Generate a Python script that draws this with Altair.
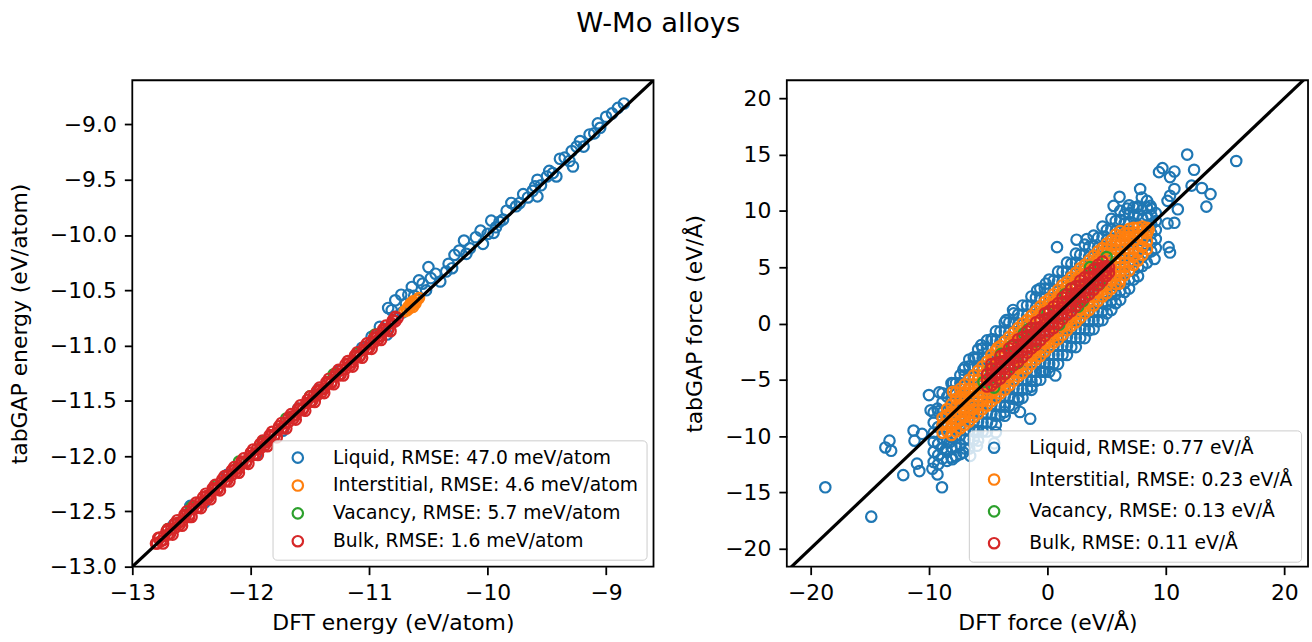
import altair as alt
import pandas as pd

FONT = "DejaVu Sans"
COLORS = ["#1f77b4", "#ff7f0e", "#2ca02c", "#d62728"]

ENERGY_LABELS = [
    "Liquid, RMSE: 47.0 meV/atom",
    "Interstitial, RMSE: 4.6 meV/atom",
    "Vacancy, RMSE: 5.7 meV/atom",
    "Bulk, RMSE: 1.6 meV/atom",
]
FORCE_LABELS = [
    "Liquid, RMSE: 0.77 eV/Å",
    "Interstitial, RMSE: 0.23 eV/Å",
    "Vacancy, RMSE: 0.13 eV/Å",
    "Bulk, RMSE: 0.11 eV/Å",
]

# ---------------- energy panel (DFT, tabGAP) in eV/atom ----------------
liquid_e = [
    (-8.85, -8.81), (-8.90, -8.85), (-8.95, -8.90), (-9.00, -8.93), (-9.05, -9.03),
    (-9.07, -8.99), (-9.10, -9.08), (-9.14, -9.09), (-9.19, -9.20), (-9.22, -9.15),
    (-9.25, -9.20), (-9.29, -9.24), (-9.31, -9.33), (-9.28, -9.38), (-9.35, -9.30),
    (-9.39, -9.31), (-9.45, -9.44), (-9.48, -9.42), (-9.42, -9.47), (-9.50, -9.47),
    (-9.55, -9.55), (-9.58, -9.50), (-9.60, -9.56), (-9.62, -9.60), (-9.58, -9.65),
    (-9.66, -9.66), (-9.70, -9.63), (-9.73, -9.71), (-9.76, -9.74), (-9.80, -9.71),
    (-9.84, -9.78), (-9.87, -9.86), (-9.90, -9.88), (-9.95, -9.98), (-9.97, -9.87),
    (-9.93, -9.93), (-10.00, -9.99), (-10.06, -9.96), (-10.10, -10.02), (-10.04, -10.08),
    (-10.15, -10.12), (-10.20, -10.05), (-10.24, -10.14), (-10.18, -10.17), (-10.28, -10.18),
    (-10.30, -10.30), (-10.33, -10.26), (-10.35, -10.33), (-10.40, -10.42), (-10.44, -10.35),
    (-10.50, -10.29), (-10.48, -10.39), (-10.52, -10.50), (-10.55, -10.44), (-10.58, -10.41),
    (-10.60, -10.58), (-10.62, -10.55), (-10.64, -10.47), (-10.67, -10.54), (-10.69, -10.62),
    (-10.72, -10.70), (-10.73, -10.54), (-10.78, -10.59), (-10.78, -10.74), (-10.81, -10.68),
    (-10.84, -10.66), (-10.88, -10.86), (-10.91, -10.83), (-10.85, -10.90), (-10.98, -10.92),
    (-11.06, -11.02), (-11.26, -11.23), (-11.43, -11.40), (-11.60, -11.57), (-11.73, -11.77),
    (-11.95, -11.98), (-12.20, -12.17), (-12.39, -12.42), (-12.51, -12.45), (-12.65, -12.62),
]
interstitial_e = [
    (-10.66, -10.66), (-10.62, -10.61), (-10.64, -10.63), (-10.60, -10.59), (-10.68, -10.68),
    (-10.63, -10.65), (-10.65, -10.62), (-10.61, -10.62), (-10.67, -10.65), (-10.70, -10.69),
    (-10.58, -10.57), (-10.63, -10.60),
]
vacancy_e = [
    (-12.70, -12.66), (-12.50, -12.46), (-12.30, -12.27), (-12.10, -12.05), (-11.90, -11.87),
    (-11.70, -11.66), (-11.50, -11.46), (-11.30, -11.26), (-11.10, -11.07), (-10.95, -10.90),
]
bulk_e = [
    (-12.80, -12.79), (-12.77, -12.74), (-12.74, -12.76), (-12.71, -12.68), (-12.68, -12.70),
    (-12.64, -12.61), (-12.60, -12.62), (-12.56, -12.53), (-12.52, -12.55), (-12.48, -12.45),
    (-12.44, -12.46), (-12.40, -12.37), (-12.36, -12.38), (-12.32, -12.29), (-12.28, -12.30),
    (-12.24, -12.21), (-12.20, -12.22), (-12.16, -12.13), (-12.12, -12.14), (-12.08, -12.05),
    (-12.04, -12.06), (-12.00, -11.97), (-11.96, -11.98), (-11.92, -11.89), (-11.88, -11.90),
    (-11.84, -11.81), (-11.80, -11.82), (-11.76, -11.73), (-11.72, -11.74), (-11.68, -11.65),
    (-11.64, -11.66), (-11.60, -11.57), (-11.56, -11.58), (-11.52, -11.49), (-11.48, -11.50),
    (-11.44, -11.41), (-11.40, -11.42), (-11.36, -11.33), (-11.32, -11.34), (-11.28, -11.25),
    (-11.24, -11.26), (-11.20, -11.17), (-11.16, -11.18), (-11.12, -11.09), (-11.08, -11.10),
    (-11.04, -11.01), (-11.00, -11.02), (-10.96, -10.93), (-10.92, -10.94), (-10.88, -10.85),
    (-10.84, -10.86), (-10.80, -10.77), (-10.76, -10.75),
    (-12.78, -12.74), (-12.74, -12.79), (-12.70, -12.66), (-12.66, -12.71), (-12.62, -12.58),
    (-12.58, -12.63), (-12.54, -12.50), (-12.50, -12.55), (-12.46, -12.42), (-12.42, -12.47),
    (-12.38, -12.34), (-12.34, -12.39), (-12.30, -12.26), (-12.26, -12.31), (-12.22, -12.18),
    (-12.18, -12.23), (-12.14, -12.10), (-12.10, -12.15), (-12.06, -12.02), (-12.02, -12.07),
    (-11.98, -11.94), (-11.94, -11.99), (-11.90, -11.86), (-11.86, -11.91), (-11.82, -11.78),
    (-11.78, -11.83), (-11.74, -11.70), (-11.70, -11.75), (-11.66, -11.62), (-11.62, -11.67),
    (-11.58, -11.54), (-11.54, -11.59), (-11.50, -11.46), (-11.46, -11.51), (-11.42, -11.38),
    (-11.38, -11.43), (-11.34, -11.30), (-11.30, -11.35), (-11.26, -11.22), (-11.22, -11.27),
    (-11.18, -11.14), (-11.14, -11.19), (-11.10, -11.06), (-11.06, -11.11), (-11.02, -10.98),
    (-10.98, -11.03), (-10.94, -10.90), (-10.90, -10.95), (-10.86, -10.82), (-10.82, -10.87),
    (-10.78, -10.74),
    (-12.79, -12.79), (-12.76, -12.77), (-12.73, -12.72), (-12.70, -12.71), (-12.67, -12.66),
    (-12.64, -12.65), (-12.61, -12.60), (-12.58, -12.59), (-12.55, -12.54), (-12.52, -12.53),
    (-12.49, -12.48), (-12.46, -12.47), (-12.43, -12.42), (-12.40, -12.41), (-12.37, -12.36),
    (-12.34, -12.35), (-12.31, -12.30), (-12.28, -12.29), (-12.25, -12.24), (-12.22, -12.23),
    (-12.19, -12.18), (-12.16, -12.17), (-12.13, -12.12), (-12.10, -12.11), (-12.07, -12.06),
    (-12.04, -12.05), (-12.01, -12.00), (-11.98, -11.99), (-11.95, -11.94), (-11.92, -11.93),
    (-11.89, -11.88), (-11.86, -11.87), (-11.83, -11.82), (-11.80, -11.81), (-11.77, -11.76),
    (-11.74, -11.75), (-11.71, -11.70), (-11.68, -11.69), (-11.65, -11.64), (-11.62, -11.63),
    (-11.59, -11.58), (-11.56, -11.57), (-11.53, -11.52), (-11.50, -11.51), (-11.47, -11.46),
    (-11.44, -11.45), (-11.41, -11.40), (-11.38, -11.39), (-11.35, -11.34), (-11.32, -11.33),
    (-11.29, -11.28), (-11.26, -11.27), (-11.23, -11.22), (-11.20, -11.21), (-11.17, -11.16),
    (-11.14, -11.15), (-11.11, -11.10), (-11.08, -11.09), (-11.05, -11.04), (-11.02, -11.03),
    (-10.99, -10.98), (-10.96, -10.97), (-10.93, -10.92), (-10.90, -10.91), (-10.87, -10.86),
    (-10.84, -10.85), (-10.81, -10.80), (-10.78, -10.78),
]

# ---------------- force panel (DFT, tabGAP) in eV/Å ----------------
liquid_f_outliers = [
    (-18.75, -14.55), (-14.87, -17.16), (11.80, 15.00), (15.94, 14.43), (9.42, 13.44),
    (9.71, 13.80), (10.72, 13.50), (12.38, 13.65), (10.35, 13.00), (12.17, 12.24),
    (13.04, 12.03), (13.77, 11.49), (13.42, 10.38), (10.72, 11.94), (10.35, 11.34),
    (10.14, 10.89), (11.01, 10.14), (10.72, 8.94), (10.14, 8.88), (10.23, 6.78),
    (10.35, 6.30), (9.04, 5.73), (7.83, 11.94), (6.09, 11.25), (5.59, 10.44),
    (7.97, 11.19), (8.41, 10.89), (8.70, 10.44), (7.54, 10.29), (6.72, 10.20),
    (0.81, 6.78), (2.46, 7.44), (3.33, 7.50), (0.67, -4.62), (-0.38, -4.26),
    (-1.36, -5.61), (-2.32, -7.86), (-1.45, -8.46), (-10.00, -6.36), (-9.13, -6.12),
    (-7.97, -5.31), (-7.10, -4.11), (-6.09, -3.12), (-5.59, -1.92), (-4.64, -1.41),
    (-3.48, 0.30), (-2.90, 1.20), (-0.87, 2.94), (-0.14, 3.54), (-11.30, -9.51),
    (-13.33, -10.41), (-13.68, -11.01), (-13.19, -11.31), (-11.22, -10.41), (-10.58, -9.81),
    (-12.17, -13.47), (-11.01, -12.45), (-10.81, -13.11), (-9.71, -12.90), (-9.28, -13.41),
    (-8.90, -14.55), (-9.86, -7.71), (-9.28, -7.56), (-8.41, -8.16), (-7.83, -6.81),
    (-7.10, -7.41), (-6.09, -9.66), (-5.94, -10.86), (-4.35, -9.66), (-8.03, -12.06),
    (-7.10, -11.46), (-8.55, -11.16), (-3.62, -7.86), (-2.46, -6.81),
    (-4.49, -10.65), (-6.52, -11.76), (-8.26, -10.56),
]
# dense core, read column by column: (DFT force, [tabGAP forces])
liquid_f_rows = [
    (-9.60, [-12.3, -11.4, -10.5, -9.7, -8.8, -7.9]),
    (-9.22, [-12.5, -11.7, -10.7, -9.2, -7.8]),
    (-8.85, [-12.0, -11.1, -10.2, -9.0, -7.9, -7.0, -6.2]),
    (-8.47, [-12.2, -11.4, -10.5, -9.2, -7.7, -6.5]),
    (-8.10, [-11.9, -11.0, -10.1, -9.2, -8.0, -6.9, -6.0, -5.3]),
    (-7.72, [-11.8, -11.0, -10.2, -9.2, -7.7, -6.3, -5.3]),
    (-7.35, [-11.6, -10.8, -9.9, -9.0, -7.6, -6.2, -5.3, -4.6]),
    (-6.97, [-11.1, -10.3, -9.5, -8.5, -7.0, -5.6, -4.6, -3.9]),
    (-6.60, [-11.1, -10.3, -9.5, -8.6, -7.4, -5.8, -4.6, -3.8, -3.2]),
    (-6.22, [-10.3, -9.5, -8.7, -7.7, -6.2, -4.8, -3.8, -3.0]),
    (-5.85, [-10.4, -9.6, -8.7, -7.9, -6.6, -5.0, -3.8, -3.0, -2.3]),
    (-5.47, [-9.6, -8.8, -8.0, -7.0, -5.5, -4.1, -3.1, -2.2]),
    (-5.10, [-9.6, -8.8, -8.0, -7.2, -5.9, -4.2, -3.0, -2.2, -1.5]),
    (-4.72, [-8.8, -8.0, -7.2, -6.2, -4.7, -3.3, -2.3, -1.4]),
    (-4.35, [-9.0, -8.2, -7.3, -6.5, -5.2, -3.5, -2.3, -1.5, -0.7]),
    (-3.97, [-8.1, -7.3, -6.5, -5.5, -4.0, -2.6, -1.6, -0.7]),
    (-3.60, [-8.2, -7.4, -6.5, -5.7, -4.4, -2.8, -1.6, -0.7, 0.1]),
    (-3.22, [-7.3, -6.5, -5.7, -4.7, -3.2, -1.8, -0.8, 0.1]),
    (-2.85, [-7.5, -6.7, -5.8, -5.0, -3.6, -2.0, -0.8, 0.1, 0.9]),
    (-2.47, [-6.6, -5.8, -5.0, -4.0, -2.5, -1.1, -0.1, 0.8]),
    (-2.10, [-6.6, -5.9, -5.0, -4.2, -2.9, -1.3, -0.1, 0.8, 1.6]),
    (-1.72, [-5.8, -5.0, -4.2, -3.2, -1.7, -0.3, 0.7, 1.6]),
    (-1.35, [-5.9, -5.1, -4.3, -3.5, -2.1, -0.5, 0.7, 1.6, 2.4]),
    (-0.97, [-5.1, -4.3, -3.5, -2.5, -1.0, 0.4, 1.4, 2.3]),
    (-0.60, [-5.0, -4.3, -3.5, -2.7, -1.4, 0.3, 1.5, 2.3, 3.1]),
    (-0.22, [-4.3, -3.5, -2.7, -1.7, -0.2, 1.2, 2.2, 3.1]),
    (0.15, [-4.3, -3.6, -2.8, -2.0, -0.6, 1.0, 2.2, 3.1, 3.9]),
    (0.52, [-3.6, -2.8, -2.0, -1.0, 0.5, 1.9, 2.9, 3.8]),
    (0.90, [-3.6, -2.8, -2.0, -1.2, 0.1, 1.7, 2.9, 3.8, 4.6]),
    (1.27, [-2.8, -2.0, -1.2, -0.2, 1.3, 2.7, 3.7, 4.6]),
    (1.65, [-2.8, -2.0, -1.2, -0.4, 0.9, 2.5, 3.7, 4.6, 5.4]),
    (2.02, [-2.1, -1.3, -0.5, 0.5, 2.0, 3.4, 4.4, 5.3]),
    (2.40, [-2.1, -1.3, -0.5, 0.3, 1.6, 3.2, 4.5, 5.4, 6.2]),
    (2.77, [-1.3, -0.5, 0.3, 1.3, 2.8, 4.2, 5.2, 6.1]),
    (3.15, [-1.3, -0.5, 0.3, 1.1, 2.4, 4.0, 5.2, 6.1, 7.0]),
    (3.52, [-0.6, 0.2, 1.0, 2.0, 3.5, 4.9, 5.9, 6.8]),
    (3.90, [-0.5, 0.3, 1.1, 1.9, 3.2, 4.8, 6.0, 6.9, 7.8]),
    (4.27, [0.2, 1.0, 1.8, 2.8, 4.3, 5.7, 6.7, 7.6]),
    (4.65, [0.3, 1.1, 1.9, 2.7, 4.0, 5.6, 6.8, 7.7, 8.6]),
    (5.02, [0.9, 1.7, 2.5, 3.5, 5.0, 6.4, 7.4, 8.3]),
    (5.40, [1.2, 2.0, 2.8, 3.6, 4.8, 6.3, 7.5, 8.4, 9.3]),
    (5.77, [1.8, 2.6, 3.4, 4.3, 5.8, 7.2, 8.2, 9.1]),
    (6.15, [2.1, 2.9, 3.7, 4.5, 5.7, 7.1, 8.3, 9.2, 10.0]),
    (6.52, [2.8, 3.6, 4.4, 5.2, 6.5, 7.9, 8.9, 9.7]),
    (6.90, [3.1, 3.9, 4.7, 5.5, 6.6, 7.9, 9.0, 9.8, 10.5]),
    (7.27, [3.9, 4.7, 5.5, 6.2, 7.3, 8.6, 9.6, 10.3]),
    (7.65, [4.2, 5.0, 5.8, 6.6, 7.6, 8.7, 9.7, 10.4]),
    (8.02, [5.1, 5.9, 6.7, 7.4, 8.3, 9.3, 10.1]),
    (8.40, [5.4, 6.2, 7.0, 7.8, 8.7, 9.6, 10.3]),
    (8.77, [6.4, 7.2, 8.0, 8.8, 9.6, 10.2]),
    (9.15, [6.7, 7.5, 8.3, 9.1, 9.8]),
]
interstitial_f_rows = [
    (-8.85, [-9.7, -9.0, -8.4]),
    (-8.47, [-9.6, -8.9, -8.2, -7.6]),
    (-8.10, [-9.9, -9.2, -8.5, -7.8, -7.2]),
    (-7.72, [-9.6, -8.9, -8.1, -7.4, -6.7, -6.1]),
    (-7.35, [-9.3, -8.6, -7.9, -7.2, -6.5, -5.8]),
    (-6.97, [-9.0, -8.3, -7.5, -6.8, -6.1, -5.4]),
    (-6.60, [-8.7, -8.0, -7.2, -6.5, -5.8, -5.0]),
    (-6.22, [-8.3, -7.6, -6.9, -6.1, -5.4, -4.6]),
    (-5.85, [-8.0, -7.3, -6.5, -5.8, -5.0, -4.2]),
    (-5.47, [-7.6, -6.9, -6.2, -5.4, -4.6, -3.8]),
    (-5.10, [-7.3, -6.6, -5.8, -5.0, -4.2, -3.4]),
    (-4.72, [-6.9, -6.2, -5.4, -4.6, -3.2, -2.8]),
    (-4.35, [-6.6, -5.9, -4.4, -3.0, -2.4]),
    (-3.97, [-6.2, -5.5, -4.0, -2.6, -2.0]),
    (-3.60, [-5.9, -5.2, -3.6, -2.2, -1.6]),
    (-3.22, [-5.5, -4.8, -3.2, -1.8, -1.2]),
    (-2.85, [-5.1, -4.4, -2.9, -1.4, -0.8]),
    (-2.47, [-4.7, -4.0, -2.5, -1.0, -0.4]),
    (-2.10, [-4.4, -3.7, -2.1, -0.6, 0.0]),
    (-1.72, [-4.0, -3.3, -1.7, -0.2, 0.3]),
    (-1.35, [-3.6, -2.9, -1.4, 0.2, 0.7]),
    (-0.97, [-3.2, -2.6, -1.0, 0.5, 1.1]),
    (-0.60, [-2.9, -2.2, -0.6, 0.9, 1.5]),
    (-0.22, [-2.5, -1.8, -0.2, 1.3, 1.9]),
    (0.15, [-2.1, -1.5, 0.1, 1.7, 2.2]),
    (0.52, [-1.7, -1.1, 0.5, 2.0, 2.6]),
    (0.90, [-1.4, -0.7, 0.9, 2.4, 3.0]),
    (1.27, [-1.0, -0.3, 1.3, 2.8, 3.4]),
    (1.65, [-0.6, 0.0, 1.6, 3.2, 3.7]),
    (2.02, [-0.2, 0.4, 2.0, 3.5, 4.1]),
    (2.40, [0.1, 0.8, 2.4, 3.9, 4.5]),
    (2.77, [0.5, 1.2, 2.8, 4.3, 4.9]),
    (3.15, [0.9, 1.5, 3.1, 4.7, 5.2]),
    (3.52, [1.2, 1.9, 3.5, 5.0, 5.6]),
    (3.90, [1.6, 2.3, 3.9, 5.4, 6.0]),
    (4.27, [2.0, 2.7, 4.3, 5.8, 6.4]),
    (4.65, [2.4, 3.0, 4.6, 6.2, 6.7]),
    (5.02, [2.7, 3.4, 4.2, 5.0, 5.8, 6.6, 7.1]),
    (5.40, [3.1, 3.8, 4.6, 5.4, 6.2, 6.9, 7.4]),
    (5.77, [3.5, 4.2, 5.0, 5.8, 6.6, 7.3, 7.9]),
    (6.15, [3.9, 4.6, 5.4, 6.2, 7.0, 7.7, 8.2]),
    (6.52, [4.3, 5.0, 5.8, 6.6, 7.4, 8.0]),
    (6.90, [4.7, 5.4, 6.2, 7.0, 7.7, 8.4]),
    (7.27, [5.2, 5.9, 6.6, 7.4, 8.1, 8.5]),
    (7.65, [5.6, 6.3, 7.0, 7.8, 8.5]),
    (8.02, [6.1, 6.8, 7.5, 8.2, 8.6]),
    (8.40, [6.6, 7.3, 8.0, 8.5]),
]
interstitial_f_outliers = [
    (6.09, 3.54), (6.81, 8.04), (8.55, 8.34), (-4.20, -2.16), (-7.10, -7.71),
    (-8.55, -8.16), (-6.52, -7.86), (-7.97, -6.06),
]
vacancy_f = [
    (-5.4, -5.2), (-4.8, -4.0), (-3.9, -2.7), (-3.0, -2.0), (-2.0, -0.9), (-1.0, -1.6),
    (0.0, 0.9), (1.0, -0.1), (2.0, 3.1), (3.0, 2.0), (3.6, 5.0), (4.4, 3.5), (5.0, 5.9),
    (-4.5, -5.7), (-3.5, -4.4), (2.6, 1.5), (4.0, 4.9), (1.5, 2.6), (-1.6, -0.5), (-2.5, -3.5),
]
bulk_f_rows = [
    (-5.10, [-5.6, -5.0, -4.5]),
    (-4.72, [-5.5, -5.0, -4.5, -4.0, -3.6]),
    (-4.35, [-5.2, -4.6, -4.0, -3.5]),
    (-3.97, [-4.9, -4.4, -3.9, -3.4, -2.9]),
    (-3.60, [-4.5, -3.9, -3.3, -2.7]),
    (-3.22, [-4.1, -3.6, -3.1, -2.6, -2.2]),
    (-2.85, [-3.7, -3.1, -2.5, -1.9]),
    (-2.47, [-3.4, -2.9, -2.4, -1.9, -1.4]),
    (-2.10, [-3.0, -2.4, -1.8, -1.2]),
    (-1.72, [-2.6, -2.1, -1.6, -1.1, -0.7]),
    (-1.35, [-2.2, -1.6, -1.0, -0.4]),
    (-0.97, [-1.9, -1.4, -0.9, -0.4, 0.1]),
    (-0.60, [-1.5, -0.9, -0.3, 0.3]),
    (-0.22, [-1.1, -0.6, -0.1, 0.4, 0.9]),
    (0.15, [-0.7, -0.1, 0.5, 1.1]),
    (0.52, [-0.4, 0.1, 0.6, 1.1, 1.5]),
    (0.90, [0.0, 0.6, 1.2, 1.8]),
    (1.27, [0.4, 0.9, 1.4, 1.9, 2.3]),
    (1.65, [0.8, 1.4, 2.0, 2.6]),
    (2.02, [1.1, 1.6, 2.1, 2.6, 3.1]),
    (2.40, [1.5, 2.1, 2.7, 3.3]),
    (2.77, [1.9, 2.4, 2.9, 3.4, 3.8]),
    (3.15, [2.3, 2.9, 3.5, 4.1]),
    (3.52, [2.6, 3.1, 3.6, 4.1, 4.5]),
    (3.90, [3.0, 3.6, 4.2, 4.8]),
    (4.27, [3.4, 3.9, 4.4, 4.9, 5.2]),
    (4.65, [3.8, 4.4, 5.0, 5.5]),
    (4.95, [4.2, 4.7, 5.1]),
    (5.20, [4.5, 5.0]),
]

ENERGY_LIMITS = [-13.0, -8.6]
FORCE_X_LIMITS = [-22.0, 22.0]
FORCE_Y_LIMITS = [-21.6, 21.6]
ENERGY_X_TICKS = [-13, -12, -11, -10, -9]
ENERGY_Y_TICKS = [-13.0, -12.5, -12.0, -11.5, -11.0, -10.5, -10.0, -9.5, -9.0]
FORCE_TICKS_X = [-20, -10, 0, 10, 20]
FORCE_TICKS_Y = [-20, -15, -10, -5, 0, 5, 10, 15, 20]


def rows_to_pairs(rows):
    return [(x, y) for x, ys in rows for y in ys]


def build(groups, labels):
    recs = []
    for pairs, lab in zip(groups, labels):
        for x, y in pairs:
            recs.append({"x": x, "y": y, "label": lab})
    return pd.DataFrame(recs)


energy_df = build([liquid_e, interstitial_e, vacancy_e, bulk_e], ENERGY_LABELS)
force_df = build(
    [
        liquid_f_outliers + rows_to_pairs(liquid_f_rows),
        rows_to_pairs(interstitial_f_rows) + interstitial_f_outliers,
        vacancy_f,
        rows_to_pairs(bulk_f_rows),
    ],
    FORCE_LABELS,
)

W, H = 524, 489


def panel(df, labels, xdom, ydom, xticks, yticks, xfmt, yfmt, xtitle, ytitle,
          line_ends, lx, ly, row_pad):
    legend = alt.Legend(
        title=None, orient="none", legendX=lx, legendY=ly,
        labelFont=FONT, labelFontSize=18.8, labelColor="black",
        fillColor="rgba(255,255,255,0.8)", strokeColor="#cccccc", cornerRadius=4,
        padding=8, symbolType="circle", symbolSize=110, symbolStrokeWidth=2.2,
        symbolOffset=8, labelOffset=26, rowPadding=row_pad, labelLimit=0,
        columns=1,
    )
    pts = alt.Chart(df).mark_point(
        shape="circle", filled=False, size=110, strokeWidth=2.2, opacity=1
    ).encode(
        x=alt.X("x:Q", title=xtitle,
                scale=alt.Scale(domain=xdom, nice=False, zero=False),
                axis=alt.Axis(values=xticks, format=xfmt, titlePadding=9)),
        y=alt.Y("y:Q", title=ytitle,
                scale=alt.Scale(domain=ydom, nice=False, zero=False),
                axis=alt.Axis(values=yticks, format=yfmt, titlePadding=18)),
        color=alt.Color("label:N", scale=alt.Scale(domain=labels, range=COLORS),
                        legend=legend, sort=labels),
    )
    line_df = pd.DataFrame({"x": line_ends, "y": line_ends})
    line = alt.Chart(line_df).mark_line(color="black", strokeWidth=3.2, clip=True).encode(
        x=alt.X("x:Q", title=xtitle),
        y=alt.Y("y:Q", title=ytitle),
    )
    return alt.layer(pts, line).properties(width=W, height=H)


left = panel(energy_df, ENERGY_LABELS, ENERGY_LIMITS, ENERGY_LIMITS,
             ENERGY_X_TICKS, ENERGY_Y_TICKS, "d", ".1f",
             "DFT energy (eV/atom)", "tabGAP energy (eV/atom)",
             ENERGY_LIMITS, 141, 362, 7)
right = panel(force_df, FORCE_LABELS, FORCE_X_LIMITS, FORCE_Y_LIMITS,
              FORCE_TICKS_X, FORCE_TICKS_Y, "d", "d",
              "DFT force (eV/Å)", "tabGAP force (eV/Å)",
              [-22.0, 22.0], 183, 352, 11)

chart = alt.hconcat(left, right, spacing=28).resolve_scale(color="independent").properties(
    title=alt.TitleParams("W-Mo alloys", font=FONT, fontSize=27.5, fontWeight="normal",
                          color="black", anchor="middle", offset=42),
    padding={"left": 7, "top": 8, "right": 3, "bottom": 0},
    background="white",
).configure_view(
    stroke="black", strokeWidth=1.8
).configure_axis(
    domain=False, grid=False, tickColor="black", tickSize=8, tickWidth=1.8,
    labelFont=FONT, labelFontSize=22, labelColor="black", labelPadding=8,
    labelFlush=False,
    titleFont=FONT, titleFontSize=22, titleFontWeight="normal", titleColor="black",
)

chart.save("out.html", embed_options={"renderer": "svg", "actions": False})
